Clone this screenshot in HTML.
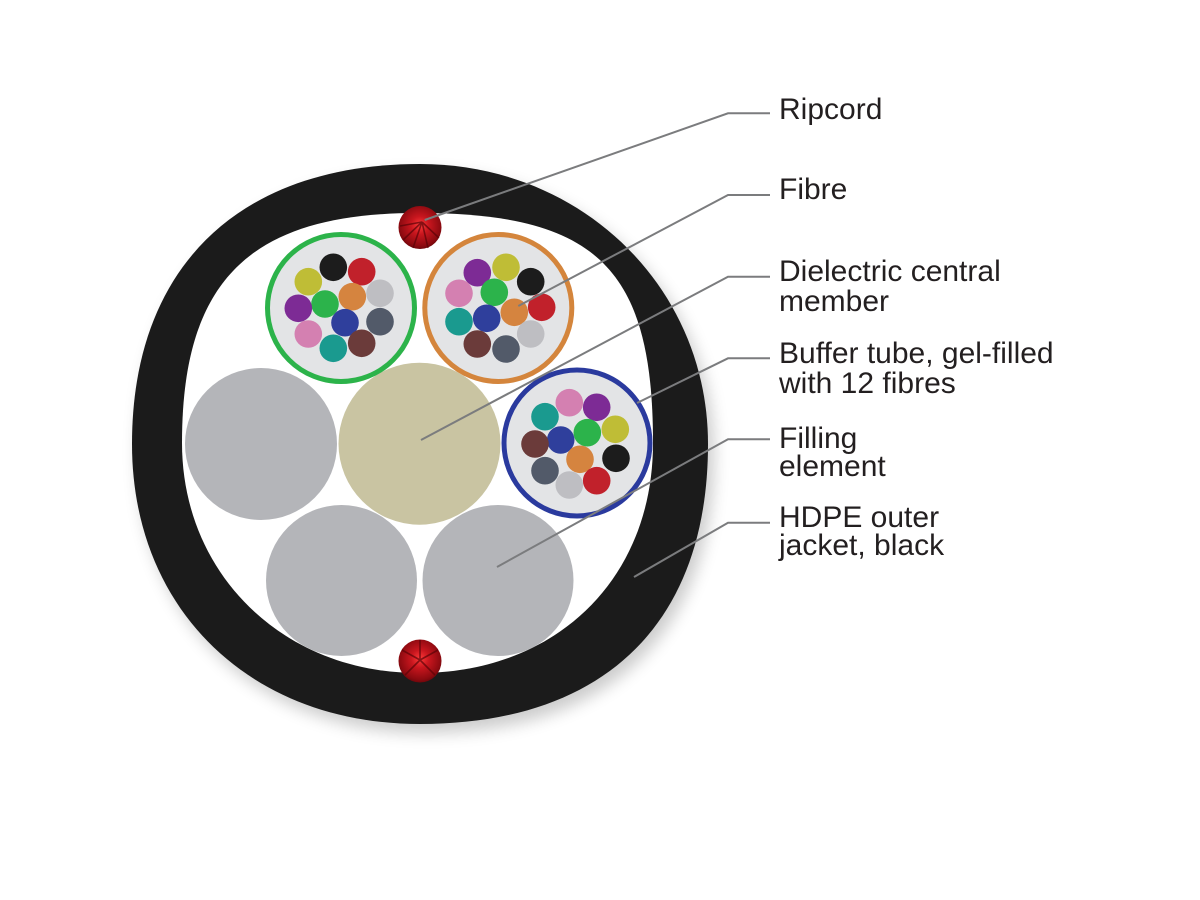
<!DOCTYPE html>
<html>
<head>
<meta charset="utf-8">
<style>
  html,body{margin:0;padding:0;background:#fff;}
  body{width:1200px;height:900px;overflow:hidden;}
  svg{display:block;}
  text{font-family:"Liberation Sans", Arial, sans-serif;font-size:30px;fill:#231f20;}
</style>
</head>
<body>
<svg width="1200" height="900" viewBox="0 0 1200 900" xmlns="http://www.w3.org/2000/svg">
  <defs>
    <filter id="sh" x="-20%" y="-20%" width="140%" height="140%">
      <feGaussianBlur stdDeviation="8"/>
    </filter>
    <radialGradient id="rc" cx="50%" cy="45%" r="60%">
      <stop offset="0" stop-color="#ff3b3b"/>
      <stop offset="0.35" stop-color="#c8161e"/>
      <stop offset="0.8" stop-color="#8c0a10"/>
      <stop offset="1" stop-color="#5c0408"/>
    </radialGradient>
  </defs>

  <!-- jacket shadow -->
  <path transform="translate(6,9)" filter="url(#sh)" fill="#000" opacity="0.2"
        d="M708,444 C708,623.2 604.3,724 420,724 C250.1,724 132,609.2 132,444 C132,267.6 238.6,164 420,164 C581.3,164 708,287.2 708,444 Z"/>
  <!-- jacket -->
  <path fill="#1b1b1b"
        d="M708,444 C708,623.2 604.3,724 420,724 C250.1,724 132,609.2 132,444 C132,267.6 238.6,164 420,164 C581.3,164 708,287.2 708,444 Z"/>
  <!-- inner white -->
  <path fill="#ffffff"
        d="M653,443 C653,578.7 556.7,673 418,673 C283.5,673 182,574.1 182,443 C182,279.7 250.4,213 418,213 C596.6,213 653,268.2 653,443 Z"/>

  <!-- filling elements -->
  <circle cx="261" cy="444" r="76" fill="#b4b5b9"/>
  <circle cx="341.5" cy="580.5" r="75.5" fill="#b4b5b9"/>
  <circle cx="498" cy="580.5" r="75.5" fill="#b4b5b9"/>
  <!-- central member -->
  <circle cx="419.5" cy="443.7" r="81" fill="#c9c4a2"/>

  <!-- buffer tubes -->
  <circle cx="341" cy="308" r="73.5" fill="#e3e4e6" stroke="#2cb34a" stroke-width="5"/>
  <circle cx="498.3" cy="308" r="73.5" fill="#e3e4e6" stroke="#d4853c" stroke-width="5"/>
  <circle cx="577" cy="443" r="73" fill="#e3e4e6" stroke="#2a3a9e" stroke-width="5"/>

  <!-- fibres: green tube -->
  <g>
    <circle cx="333.3" cy="267.3" r="13.8" fill="#1c1c1c"/>
    <circle cx="361.7" cy="271.7" r="13.8" fill="#c1212b"/>
    <circle cx="308.3" cy="281.7" r="13.8" fill="#bfbd36"/>
    <circle cx="380" cy="293.3" r="13.8" fill="#bebec2"/>
    <circle cx="352.3" cy="296.7" r="13.8" fill="#d5843f"/>
    <circle cx="325" cy="304" r="13.8" fill="#2cb34b"/>
    <circle cx="298.3" cy="308.3" r="13.8" fill="#7d2b95"/>
    <circle cx="380" cy="321.7" r="13.8" fill="#525a69"/>
    <circle cx="345" cy="322.7" r="13.8" fill="#2f3f9c"/>
    <circle cx="308.3" cy="334" r="13.8" fill="#d480b1"/>
    <circle cx="361.7" cy="343.3" r="13.8" fill="#6b3b3a"/>
    <circle cx="333.3" cy="348.3" r="13.8" fill="#1a9a8f"/>
  </g>
  <!-- fibres: orange tube -->
  <g>
    <circle cx="477.3" cy="272.7" r="13.8" fill="#7d2b95"/>
    <circle cx="506" cy="267.3" r="13.8" fill="#bfbd36"/>
    <circle cx="530.7" cy="281.7" r="13.8" fill="#1c1c1c"/>
    <circle cx="459" cy="293.3" r="13.8" fill="#d480b1"/>
    <circle cx="494.3" cy="292.3" r="13.8" fill="#2cb34b"/>
    <circle cx="541.7" cy="307.3" r="13.8" fill="#c1212b"/>
    <circle cx="514.3" cy="312.3" r="13.8" fill="#d5843f"/>
    <circle cx="459" cy="321.7" r="13.8" fill="#1a9a8f"/>
    <circle cx="486.7" cy="318.3" r="13.8" fill="#2f3f9c"/>
    <circle cx="530.7" cy="334" r="13.8" fill="#bebec2"/>
    <circle cx="477.3" cy="344" r="13.8" fill="#6b3b3a"/>
    <circle cx="506" cy="349" r="13.8" fill="#525a69"/>
  </g>
  <!-- fibres: blue tube -->
  <g>
    <circle cx="569.3" cy="402.7" r="13.8" fill="#d480b1"/>
    <circle cx="596.7" cy="407.3" r="13.8" fill="#7d2b95"/>
    <circle cx="545" cy="416.7" r="13.8" fill="#1a9a8f"/>
    <circle cx="587.3" cy="432.7" r="13.8" fill="#2cb34b"/>
    <circle cx="615.3" cy="429.3" r="13.8" fill="#bfbd36"/>
    <circle cx="560.7" cy="440" r="13.8" fill="#2f3f9c"/>
    <circle cx="535" cy="444" r="13.8" fill="#6b3b3a"/>
    <circle cx="580" cy="459.3" r="13.8" fill="#d5843f"/>
    <circle cx="616" cy="458.3" r="13.8" fill="#1c1c1c"/>
    <circle cx="545" cy="470.7" r="13.8" fill="#525a69"/>
    <circle cx="569.3" cy="485" r="13.8" fill="#bebec2"/>
    <circle cx="596.7" cy="480.7" r="13.8" fill="#c1212b"/>
  </g>

  <!-- ripcords -->
  <g>
    <circle cx="420" cy="227.5" r="21.5" fill="url(#rc)"/>
    <g stroke="#5a0307" stroke-width="1.6" opacity="0.7">
      <line x1="422" y1="222" x2="403" y2="240"/>
      <line x1="422" y1="222" x2="413" y2="248"/>
      <line x1="422" y1="222" x2="428" y2="248"/>
      <line x1="422" y1="222" x2="439" y2="238"/>
      <line x1="422" y1="222" x2="400" y2="226"/>
    </g>
    <circle cx="420" cy="661" r="21.5" fill="url(#rc)"/>
    <g stroke="#5a0307" stroke-width="1.6" opacity="0.7">
      <line x1="420" y1="660" x2="402" y2="650"/>
      <line x1="420" y1="660" x2="438" y2="650"/>
      <line x1="420" y1="660" x2="405" y2="675"/>
      <line x1="420" y1="660" x2="435" y2="675"/>
      <line x1="420" y1="660" x2="420" y2="640"/>
    </g>
  </g>

  <!-- leader lines -->
  <g stroke="#7b7c7e" stroke-width="2" fill="none">
    <polyline points="770,113.3 728,113.3 424.7,220"/>
    <polyline points="770,195 728,195 518.3,306"/>
    <polyline points="770,276.7 728,276.7 421,440"/>
    <polyline points="770,358.3 728,358.3 637,403"/>
    <polyline points="770,439.3 728,439.3 497,567"/>
    <polyline points="770,522.7 728,522.7 634,577"/>
  </g>

  <!-- labels -->
  <text x="779" y="119">Ripcord</text>
  <text x="779" y="199">Fibre</text>
  <text x="779" y="281">Dielectric central</text>
  <text x="779" y="311">member</text>
  <text x="779" y="363">Buffer tube, gel-filled</text>
  <text x="779" y="393">with 12 fibres</text>
  <text x="779" y="448">Filling</text>
  <text x="779" y="476">element</text>
  <text x="779" y="527">HDPE outer</text>
  <text x="779" y="555">jacket, black</text>
</svg>
</body>
</html>
